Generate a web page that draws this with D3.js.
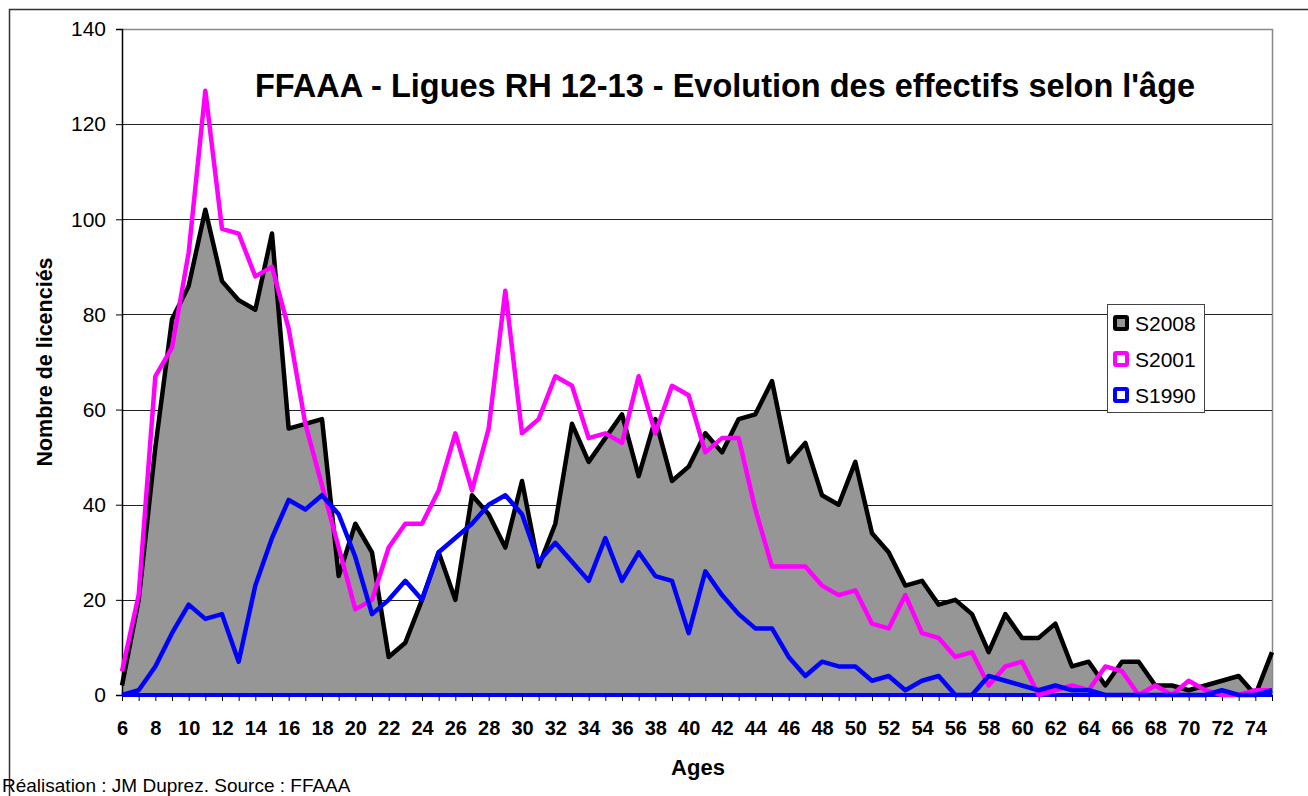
<!DOCTYPE html>
<html><head><meta charset="utf-8">
<script src="https://cdn.jsdelivr.net/npm/d3@7"></script>
<style>
html,body{margin:0;padding:0;background:#fff;}
svg{display:block;font-family:"Liberation Sans",Arial,sans-serif;}
</style></head>
<body>
<svg id="chart" width="1308" height="796"></svg>
<script>
const ages = d3.range(6, 76);
const tickLabels = d3.range(6, 75, 2);
const yTicks = [0,20,40,60,80,100,120,140];
const seriesNames = ["S2008","S2001","S1990"];
const seriesColors = {"S2008":"#000000","S2001":"#ff00ff","S1990":"#0000ff"};
const s2008 = [2,20,52,79,86,102,87,83,81,97,56,57,58,25,36,30,8,11,20,30,20,42,38,31,45,27,36,57,49,54,59,46,58,45,48,55,51,58,59,66,49,53,42,40,49,34,30,23,24,19,20,17,9,17,12,12,15,6,7,2,7,7,2,2,1,2,3,4,0,9];
const s2001 = [5,21,67,73,93,127,98,97,88,90,77,57,44,31,18,20,31,36,36,43,55,43,56,85,55,58,67,65,54,55,53,67,55,65,63,51,54,54,39,27,27,27,23,21,22,15,14,21,13,12,8,9,2,6,7,0,1,2,1,6,5,0,2,0,3,1,0,0,1,1];
const s1990 = [0,1,6,13,19,16,17,7,23,33,41,39,42,38,29,17,20,24,20,30,33,36,40,42,38,28,32,28,24,33,24,30,25,24,13,26,21,17,14,14,8,4,7,6,6,3,4,1,3,4,0,0,4,3,2,1,2,1,1,0,0,0,0,0,0,0,1,0,0,1];
const titleText = "FFAAA - Ligues RH 12-13 - Evolution des effectifs selon l'âge";

const svg = d3.select("#chart");
const L = 122, R = 1272, T = 29, B = 695;
const x = d3.scalePoint().domain(ages).range([L, R]);
const y = d3.scaleLinear().domain([0, 140]).range([B, T]);

// outer frame
svg.append("path").attr("d", `M9.5,800 V9.5 H1310`).attr("fill","none").attr("stroke","#333").attr("stroke-width",1.5);

// plot frame top/right
svg.append("path").attr("d", `M${L},${T+0.5} H${R+0.5} V${B}`).attr("fill","none").attr("stroke","#888").attr("stroke-width",1.5);

// gridlines
svg.append("g").selectAll("line").data(yTicks.filter(v => v > 0 && v < 140)).join("line")
  .attr("x1", L).attr("x2", R).attr("y1", d => Math.round(y(d)) + 0.5).attr("y2", d => Math.round(y(d)) + 0.5)
  .attr("stroke", "#222").attr("stroke-width", 1);

// area S2008
const data = ages.map((a, i) => ({a, s2008: s2008[i], s2001: s2001[i], s1990: s1990[i]}));
svg.append("path").datum(data)
  .attr("d", d3.area().x(d => x(d.a)).y0(y(0)).y1(d => y(d.s2008)))
  .attr("fill", "#969696");

// blue baseline
svg.append("line").attr("x1", L).attr("x2", R).attr("y1", y(0)).attr("y2", y(0))
  .attr("stroke", "#0000ff").attr("stroke-width", 4);

// y axis
const yAxis = svg.append("g").attr("transform", `translate(${L},0)`)
  .call(d3.axisLeft(y).tickValues(yTicks).tickSize(6).tickPadding(10));
yAxis.select(".domain").attr("stroke", "#000").attr("stroke-width", 1.5);
yAxis.selectAll(".tick line").attr("stroke", "#000");
yAxis.selectAll(".tick text").attr("font-size", 21).attr("fill", "#000")
  .attr("font-family", "'Liberation Sans', Arial, sans-serif");

// x axis
const xAxis = svg.append("g").attr("transform", `translate(0,${B})`)
  .call(d3.axisBottom(x).tickValues(ages).tickSize(6).tickFormat(d => tickLabels.includes(d) ? d : ""));
xAxis.select(".domain").remove();
xAxis.selectAll(".tick line").attr("stroke", "#000");
xAxis.selectAll(".tick text").attr("font-size", 20).attr("font-weight", "bold").attr("fill", "#000")
  .attr("font-family", "'Liberation Sans', Arial, sans-serif").attr("y", 0).attr("dy", 0)
  .attr("transform", "translate(0,40)");

// lines
const line = key => d3.line().x(d => x(d.a)).y(d => y(d[key]));
[["s2008","S2008"],["s2001","S2001"],["s1990","S1990"]].forEach(([k, n]) => {
  svg.append("path").datum(data).attr("d", line(k)).attr("fill", "none")
    .attr("stroke", seriesColors[n]).attr("stroke-width", 4.5).attr("stroke-linejoin", "round");
});

// title
svg.append("text").attr("x", 725).attr("y", 97).attr("text-anchor", "middle")
  .attr("font-size", 32.5).attr("font-weight", "bold").text(titleText);

// y label
svg.append("text").attr("transform", "translate(52,362) rotate(-90)").attr("text-anchor", "middle")
  .attr("font-size", 21.5).attr("font-weight", "bold").text("Nombre de licenciés");

// x label
svg.append("text").attr("x", 698).attr("y", 775).attr("text-anchor", "middle")
  .attr("font-size", 22).attr("font-weight", "bold").text("Ages");

// footer
svg.append("text").attr("x", 2).attr("y", 792).attr("font-size", 19).text("Réalisation : JM Duprez. Source : FFAAA");

// legend
const lg = svg.append("g");
lg.append("rect").attr("x", 1107.5).attr("y", 304.5).attr("width", 97).attr("height", 108)
  .attr("fill", "#fff").attr("stroke", "#444").attr("stroke-width", 1);
const fills = {"S2008":"#969696","S2001":"#fff","S1990":"#fff"};
seriesNames.forEach((n, i) => {
  const cy = 323 + i * 36;
  lg.append("rect").attr("x", 1115).attr("y", cy - 6).attr("width", 12).attr("height", 12)
    .attr("fill", fills[n]).attr("stroke", seriesColors[n]).attr("stroke-width", 4).attr("rx", 1);
  lg.append("text").attr("x", 1135).attr("y", cy + 7.5).attr("font-size", 21).text(n);
});
</script>
</body></html>
